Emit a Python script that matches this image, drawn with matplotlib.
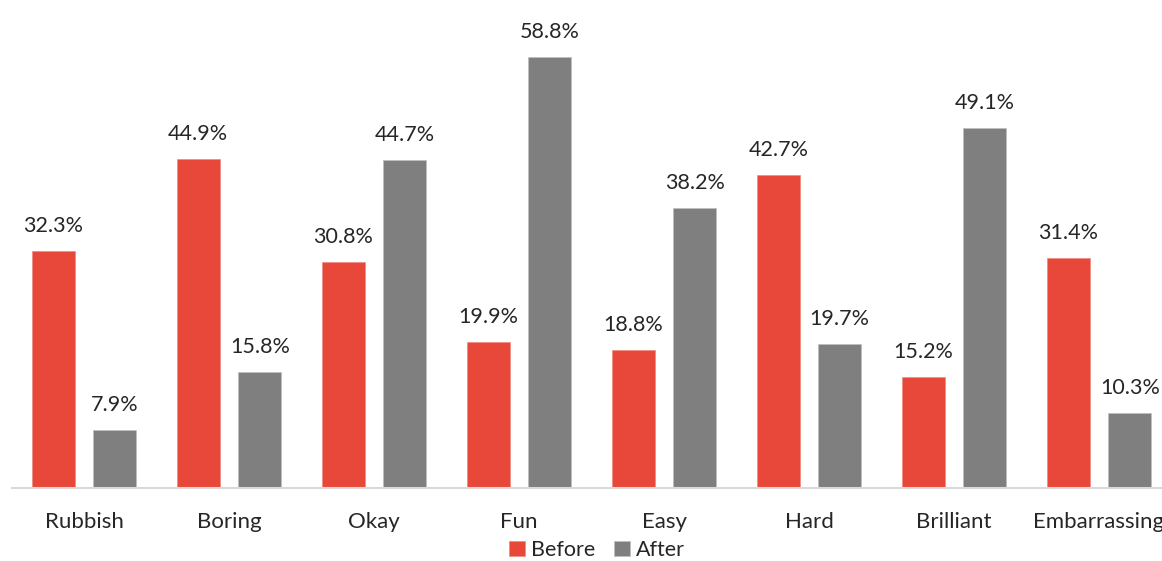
import matplotlib
matplotlib.use("Agg")
import matplotlib.pyplot as plt
import numpy as np

categories = ["Rubbish", "Boring", "Okay", "Fun", "Easy", "Hard", "Brilliant", "Embarrassing"]
before = [32.3, 44.9, 30.8, 19.9, 18.8, 42.7, 15.2, 31.4]
after = [7.9, 15.8, 44.7, 58.8, 38.2, 19.7, 49.1, 10.3]

plt.rcParams['font.family'] = ['Lato', 'DejaVu Sans']
RED = "#E8483A"
GRAY = "#7F7F7F"

fig = plt.figure(figsize=(11.62, 5.61), dpi=100)
ax = fig.add_axes([11.5/1162, 73/561, 1160/1162, 488/561])

x = np.arange(len(categories))
w = 0.297
off = 0.212
b1 = ax.bar(x - off, before, w, color=RED, label="Before", edgecolor="#F08A80", linewidth=0.5)
b2 = ax.bar(x + off, after, w, color=GRAY, label="After", edgecolor="#BFBFBF", linewidth=0.5)

for bars, vals in ((b1, before), (b2, after)):
    for r, v in zip(bars, vals):
        ax.annotate(f"{v:.1f}%", (r.get_x() + r.get_width()/2, v), xytext=(0, 18),
                    textcoords="offset points", ha="center", va="center",
                    fontsize=15.5, color="#262626")

ax.set_xlim(-0.5, len(categories) - 0.5)
ax.set_ylim(0, 66.58)
ax.set_xticks(x)
ax.set_xticklabels(categories, fontsize=16, color="#262626")
ax.tick_params(axis='x', length=0, pad=17)
ax.set_yticks([])
for s in ("top", "right", "left"):
    ax.spines[s].set_visible(False)
ax.spines["bottom"].set_color("#D9D9D9")
ax.spines["bottom"].set_linewidth(1.5)

fig.legend(handles=[b1, b2], labels=["Before", "After"], loc="center",
           bbox_to_anchor=(597/1162, 1 - 550/561), ncol=2, frameon=False,
           fontsize=15.5, handlelength=0.75, handleheight=0.75, handletextpad=0.28,
           columnspacing=0.85, labelcolor="#262626", borderpad=0.1)

fig.savefig("out.png", dpi=100)
